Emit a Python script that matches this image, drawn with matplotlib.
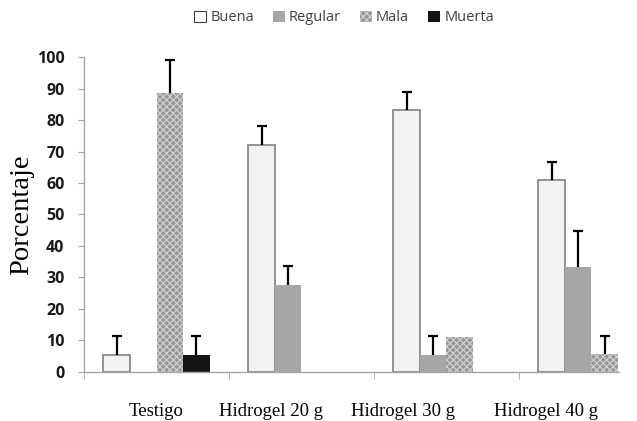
import numpy as np
import matplotlib.pyplot as plt
from matplotlib.patches import Patch

categories = ["Testigo", "Hidrogel 20 g", "Hidrogel 30 g", "Hidrogel 40 g"]
series = ["Buena", "Regular", "Mala", "Muerta"]

buena = [5.5, 72.2, 83.2, 61.0]
regular = [0, 27.7, 5.5, 33.2]
mala = [88.7, 0, 11.0, 5.6]
muerta = [5.5, 0, 0, 0]

buena_err = [6.0, 6.0, 5.8, 5.8]
regular_err = [0, 5.8, 6.0, 11.6]
mala_err = [10.3, 0, 0, 5.8]
muerta_err = [6.0, 0, 0, 0]

# where the category texts sit under the axis (typed labels, not centred)
label_pos = [0.0, 0.79, 1.70, 2.69]

plt.rcParams["hatch.linewidth"] = 0.9

values = [buena, regular, mala, muerta]
errors = [buena_err, regular_err, mala_err, muerta_err]
styles = [
    dict(color="#f2f2f2", edgecolor="#808080", linewidth=1.2),
    dict(color="#a6a6a6", linewidth=0),
    dict(facecolor="#979797", edgecolor="#cfcfcf", hatch="xxxxx", linewidth=0),
    dict(color="#141414", linewidth=0),
]

fig = plt.figure(figsize=(6.37, 4.21), dpi=100)
ax = fig.add_axes([0.1319, 0.1164, 0.8398, 0.7482])

x = np.arange(len(categories))
width = 0.183
for i, (vals, errs, st) in enumerate(zip(values, errors, styles)):
    pos = x + (i - 1.5) * width
    ax.bar(pos, vals, width, **st)
    vals = np.array(vals)
    errs = np.array(errs)
    keep = errs > 0
    # upper error only: stem plus a cap at the top
    ax.vlines(pos[keep], vals[keep], vals[keep] + errs[keep], color="black",
              linewidth=1.6, clip_on=False, zorder=3)
    ax.plot(pos[keep], vals[keep] + errs[keep], linestyle="none", marker="_",
            markersize=7.5, markeredgewidth=1.6, color="black", clip_on=False,
            zorder=3)

ax.set_xlim(-0.5, 3.19)
ax.set_ylim(0, 100)
ax.set_yticks(range(0, 101, 10))
for lab in ax.get_yticklabels():
    lab.set_fontfamily("Open Sans")
    lab.set_fontweight("bold")
    lab.set_fontsize(11.5)
    lab.set_color("#1a1a1a")
ax.tick_params(axis="y", length=4, color="#a0a0a0", pad=10)

ax.set_xticks(label_pos)
ax.set_xticklabels(categories, family="Liberation Serif", fontsize=13.5)
ax.set_xticks([-0.5, 0.5, 1.5, 2.5], minor=True)
ax.tick_params(axis="x", which="major", length=0, pad=22)
ax.tick_params(axis="x", which="minor", length=5, color="#a0a0a0")

ax.set_ylabel("Porcentaje", family="Liberation Serif", fontsize=20.5, labelpad=2)

for side in ["top", "right"]:
    ax.spines[side].set_visible(False)
for side in ["left", "bottom"]:
    ax.spines[side].set_color("#a6a6a6")
    ax.spines[side].set_linewidth(1.0)

handles = [Patch(**st) for st in styles]
handles[0] = Patch(facecolor="white", edgecolor="#404040", linewidth=0.8)
fig.legend(handles, series, loc="center", bbox_to_anchor=(0.54, 0.958), ncol=4,
           frameon=False, prop={"family": "Open Sans", "size": 10.5},
           handlelength=0.8, handleheight=0.8, handletextpad=0.3,
           columnspacing=1.3, labelcolor="#404040")

fig.savefig("out.png", dpi=100)
